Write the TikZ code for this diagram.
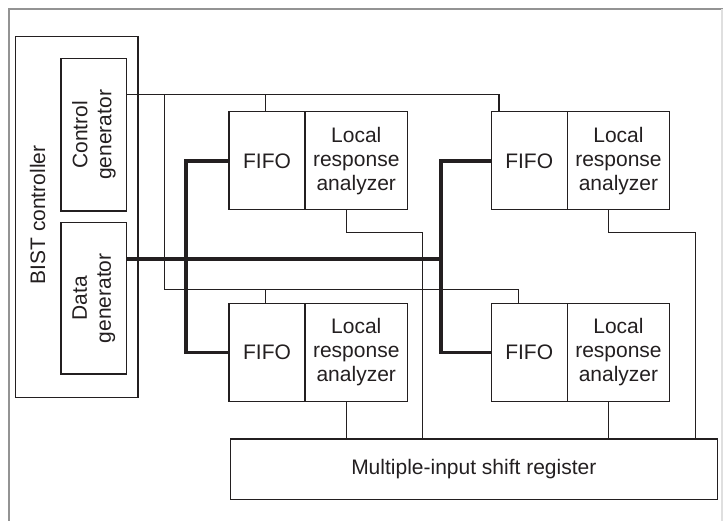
\documentclass[tikz,border=0pt]{standalone}
\usepackage{fontspec}
\setmainfont{Liberation Sans}
\definecolor{ink}{HTML}{231F20}
\begin{document}
\begin{tikzpicture}[x=1pt,y=-1pt,
  box/.style={draw=ink,line width=1.3pt,rectangle,inner sep=0pt,anchor=center,
    align=center,font=\fontsize{21}{24}\selectfont,text=ink},
  fifobox/.style={box,minimum width=76pt,minimum height=98pt},
  lrabox/.style={box,minimum width=102.5pt,minimum height=98pt},
  wire/.style={draw=ink,line width=1.2pt},
  bus/.style={draw=ink,line width=3.6pt},
  vlabel/.style={rotate=90,align=center,font=\fontsize{21}{24}\selectfont,text=ink,inner sep=0pt}]
\useasboundingbox (0,0) rectangle (723,521);
% frame
\draw[gray!85,line width=1.4pt] (9,521) -- (9,9) -- (723,9);
\draw[gray!25,line width=1.2pt] (722,9) -- (722,521);
% BIST controller
\node[box,minimum width=122.3pt,minimum height=361pt] (bist) at (76.85,217.2) {};
\node[vlabel,anchor=base] (bistl) at (45,215) {BIST controller};
\node[box,minimum width=65.7pt,minimum height=152.3pt] (cg) at (93.85,134.85) {};
\node[vlabel] (cgl) at (cg.center) {Control\\generator};
\node[box,minimum width=65.7pt,minimum height=151.3pt] (dg) at (93.85,298.35) {};
\node[vlabel] (dgl) at (dg.center) {Data\\generator};
% FIFOs and LRAs
\node[fifobox] (fifoTL) at (267,160.85) {FIFO};
\node[lrabox] (lraTL) at (356.25,160.85) {Local\\response\\analyzer};
\node[fifobox] (fifoTR) at (529.2,160.85) {FIFO};
\node[lrabox] (lraTR) at (618.45,160.85) {Local\\response\\analyzer};
\node[fifobox] (fifoBL) at (267,352.5) {FIFO};
\node[lrabox] (lraBL) at (356.25,352.5) {Local\\response\\analyzer};
\node[fifobox] (fifoBR) at (529.2,352.5) {FIFO};
\node[lrabox] (lraBR) at (618.45,352.5) {Local\\response\\analyzer};
% MISR
\node[box,minimum width=487pt,minimum height=60.3pt] (misr) at (473.8,469.15) {Multiple-input shift register};
% control wires
\coordinate (c1) at (499,94.7);
\coordinate (c2) at (164.3,94.7);
\coordinate (c3) at (164.3,289.3);
\coordinate (c4) at (518.3,289.3);
\draw[wire] (cg.east |- c1) -- (c1) -- (c1 |- fifoTR.north);
\draw[wire] (265.7,94.7) -- (265.7,112);
\draw[wire] (c2) -- (c3) -- (c4) -- (c4 |- fifoBR.north);
\draw[wire] (265.7,289.3) -- (265.7,303.5);
% data bus
\coordinate (d1) at (441,259);
\coordinate (d2) at (186,259);
\draw[bus] (dg.east |- d1) -- (d1);
\draw[bus] (fifoTL.west) -- (d2 |- fifoTL.west) -- (d2 |- fifoBL.west) -- (fifoBL.west);
\draw[bus] (fifoTR.west) -- (d1 |- fifoTR.west) -- (d1 |- fifoBR.west) -- (fifoBR.west);
% response outputs
\coordinate (o1) at (346.7,232.7);
\coordinate (o2) at (422.3,232.7);
\coordinate (o3) at (608.3,232.7);
\coordinate (o4) at (695.7,232.7);
\draw[wire] (o1 |- lraTL.south) -- (o1) -- (o2) -- (o2 |- misr.north);
\draw[wire] (o3 |- lraTR.south) -- (o3) -- (o4) -- (o4 |- misr.north);
\draw[wire] (o1 |- lraBL.south) -- (o1 |- misr.north);
\draw[wire] (o3 |- lraBR.south) -- (o3 |- misr.north);
\end{tikzpicture}
\end{document}
